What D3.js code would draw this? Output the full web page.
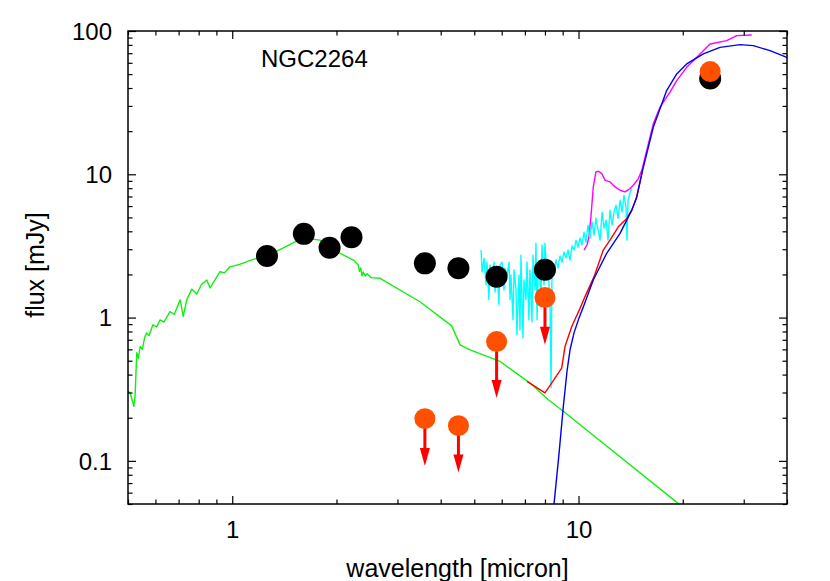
<!DOCTYPE html>
<html><head><meta charset="utf-8">
<script src="https://cdn.jsdelivr.net/npm/d3@7"></script>
<style>
body{margin:0;background:#fff}
text{font-family:"Liberation Sans",Arial,Helvetica,sans-serif;fill:#000}
</style>
</head><body>
<svg id="chart" width="830" height="581"></svg>
<script>
// ---------- data ----------
const title = "NGC2264";
const xLabel = "wavelength [micron]";
const yLabel = "flux [mJy]";
const xTickLabels = [1, 10];
const yTickLabels = [0.1, 1, 10, 100];

// photometry (black filled circles)
const photWave = [1.26, 1.61, 1.91, 2.21, 3.6, 4.5, 5.8, 8.0, 24];
const photFlux = [2.69, 3.84, 3.07, 3.64, 2.39, 2.21, 1.93, 2.16, 46.6];

// second epoch / limits (orange circles), arrows for upper limits
const limWave = [3.6, 4.5, 5.8, 8.0, 24];
const limFlux = [0.197, 0.176, 0.68, 1.38, 52.1];
const limArrowTip = [0.092, 0.083, 0.275, 0.645, null];

// stellar photosphere (green)
const starWave = [0.495,0.507,0.513,0.520,0.524,0.530,0.536,0.542,0.550,0.558,0.566,0.575,0.590,0.605,0.619,0.635,0.661,0.680,0.707,0.722,0.739,0.764,0.790,0.815,0.844,0.863,0.922,0.950,0.985,1.05,1.15,1.258,1.40,1.518,1.604,1.793,2.048,2.237,2.312,2.33,2.35,2.37,2.39,2.42,2.45,2.52,2.672,3.486,4.303,4.549,4.861,5.934,7.244,8.18,9.04,19.42,21.0];
const starFlux = [0.31,0.299,0.27,0.240,0.282,0.568,0.52,0.628,0.60,0.72,0.782,0.75,0.890,0.86,0.964,0.93,1.10,1.05,1.33,1.02,1.33,1.58,1.46,1.70,1.83,1.61,2.09,2.05,2.26,2.35,2.55,2.69,3.05,3.38,3.59,3.47,2.81,2.52,2.33,2.10,2.22,1.96,2.08,1.95,2.02,1.90,1.88,1.29,0.875,0.645,0.596,0.494,0.349,0.267,0.222,0.0503,0.043];

// IRS spectrum (cyan)
const irsWave = [5.23,5.265,5.336,5.407,5.44,5.51,5.553,5.627,5.702,5.74,5.82,5.89,5.934,6.013,6.093,6.13,6.22,6.30,6.341,6.38,6.47,6.511,6.598,6.64,6.73,6.776,6.82,6.91,6.959,7.052,7.10,7.19,7.241,7.338,7.39,7.49,7.535,7.59,7.637,7.69,7.79,7.844,7.949,8.00,8.11,8.162,8.272,8.33,8.383,8.494,8.610,8.725,8.842,8.959,9.080,9.202,9.326,9.452,9.577,9.705,9.835,9.968,10.10,10.23,10.37,10.51,10.65,10.79,10.94,11.09,11.23,11.39,11.54,11.70,11.85,12.01,12.17,12.33,12.50,12.66,12.83,13.01,13.18,13.36,13.53,13.72,13.80,13.90,14.09,14.27];
const irsFlux = [2.96,2.08,2.60,1.69,2.44,1.33,2.33,1.98,2.44,1.51,2.22,1.23,2.33,2.44,1.56,2.22,1.98,2.44,1.33,1.98,0.964,2.15,1.56,0.758,1.98,0.821,2.73,0.723,1.83,1.33,2.44,0.964,2.15,0.933,2.73,1.56,3.31,0.964,1.83,2.44,1.33,3.21,1.69,3.31,1.83,2.44,1.23,0.324,2.15,1.98,2.52,2.22,2.69,2.44,2.87,2.60,2.96,2.52,3.16,2.96,3.47,3.10,3.59,3.21,3.95,3.36,4.42,3.59,4.63,3.76,4.94,4.08,3.47,5.44,4.21,4.79,3.47,5.62,4.42,5.44,6.08,4.94,6.59,5.44,7.14,5.80,3.47,6.59,7.49,7.99];

// second spectrum (magenta)
const spec2Wave = [10.37,10.58,10.72,10.87,11.03,11.23,11.41,11.67,11.93,12.33,12.75,13.18,13.62,14.09,14.39,14.89,15.23,15.74,16.44,17.19,18.37,19.21,20.53,22.44,23.98,26.79,28.63,31.63];
const spec2Flux = [2.96,3.21,3.65,5.19,8.16,10.4,10.5,10.1,9.08,8.84,8.16,7.74,7.53,7.95,8.38,9.33,10.66,14.7,22.5,29.4,37.4,45.1,55.8,69.2,81.2,85.6,92.8,93.8];

// dust model (blue)
const dustWave = [8.38,8.50,8.78,9.04,9.26,9.452,9.705,9.99,10.33,11.03,12.06,13.18,13.78,14.25,14.73,15.26,16.44,17.97,19.21,20.53,22.93,25.62,29.27,31.97,35.73,39.93,40.8];
const dustFlux = [0.0333,0.0505,0.111,0.240,0.419,0.596,0.782,0.964,1.19,1.83,2.81,3.87,4.79,5.62,6.95,10.3,21.3,38.4,50.2,58.9,69.2,76.9,80.3,79.0,72.9,65.5,64.1];

// total model (red)
const totWave = [7.10,8.00,8.37,8.94,9.14,9.56,10.10,10.44,11.09,11.79,12.33,13.03,13.78,14.25,14.73,15.26];
const totFlux = [0.359,0.298,0.350,0.444,0.628,0.866,1.16,1.40,1.93,2.96,3.47,4.30,4.92,5.62,6.95,10.3];

// ---------- chart ----------
const svg = d3.select("#chart");
const L = 128, R = 787, T = 31, B = 504;
const x = d3.scaleLog().domain([0.5, 40]).range([L, R]);
const y = d3.scaleLog().domain([0.05, 100]).range([B, T]);

svg.append("rect").attr("width", 830).attr("height", 581).attr("fill", "#fff");
svg.append("defs").append("clipPath").attr("id", "clip")
  .append("rect").attr("x", L).attr("y", T).attr("width", R - L).attr("height", B - T);

const zip = (a, b) => a.map((v, i) => [v, b[i]]);
const line = d3.line().x(d => x(d[0])).y(d => y(d[1]));
const g = svg.append("g").attr("clip-path", "url(#clip)");

function drawLine(w, f, color, sw) {
  g.append("path").datum(zip(w, f)).attr("d", line)
    .attr("fill", "none").attr("stroke", color).attr("stroke-width", sw)
    .attr("stroke-linejoin", "round");
}
drawLine(starWave, starFlux, "#11ee11", 1.4);
drawLine(spec2Wave, spec2Flux, "#ff00ff", 1.4);
drawLine(irsWave, irsFlux, "#00ffff", 1.4);
drawLine(totWave, totFlux, "#ff0000", 1.4);
drawLine(dustWave, dustFlux, "#0000f0", 1.4);

// black photometry
g.selectAll("circle.phot").data(zip(photWave, photFlux)).join("circle")
  .attr("class", "phot").attr("cx", d => x(d[0])).attr("cy", d => y(d[1]))
  .attr("r", 11).attr("fill", "#000");

// orange limits with arrows
const lim = limWave.map((w, i) => ({w, f: limFlux[i], tip: limArrowTip[i]}));
g.selectAll("circle.lim").data(lim).join("circle")
  .attr("class", "lim").attr("cx", d => x(d.w)).attr("cy", d => y(d.f))
  .attr("r", 10.5).attr("fill", "#ff5000");
const arrows = lim.filter(d => d.tip !== null);
const headLen = 18, headW = 5;
g.selectAll("line.arr").data(arrows).join("line")
  .attr("class", "arr")
  .attr("x1", d => x(d.w)).attr("x2", d => x(d.w))
  .attr("y1", d => y(d.f) + 10).attr("y2", d => y(d.tip) - headLen + 2)
  .attr("stroke", "#ff0000").attr("stroke-width", 3);
g.selectAll("path.head").data(arrows).join("path")
  .attr("class", "head")
  .attr("d", d => {
    const cx = x(d.w), ty = y(d.tip);
    return `M${cx - headW},${ty - headLen}L${cx + headW},${ty - headLen}L${cx},${ty}Z`;
  })
  .attr("fill", "#ff0000");

// axes / ticks
const majorX = xTickLabels, majorY = yTickLabels;
const minorX = x.ticks().filter(v => !majorX.some(m => Math.abs(m - v) < 1e-9));
const minorY = y.ticks().filter(v => !majorY.some(m => Math.abs(m - v) < 1e-9));
const fmt = d => String(d);

function axisPair(gen, pos, majors, minors, labels) {
  const a1 = svg.append("g").attr("transform", pos)
    .call(gen.tickValues(minors).tickSize(-4.5).tickFormat(""));
  const a2 = svg.append("g").attr("transform", pos)
    .call(gen.tickValues(majors).tickSize(-8).tickFormat(labels ? fmt : ""));
  [a1, a2].forEach(a => {
    a.select(".domain").remove();
    a.selectAll(".tick line").attr("stroke", "#000").attr("stroke-width", 1.2);
  });
  return a2;
}
const bx = axisPair(d3.axisBottom(x).tickPadding(17), `translate(0,${B})`, majorX, minorX, true);
axisPair(d3.axisTop(x), `translate(0,${T})`, majorX, minorX, false);
const ly = axisPair(d3.axisLeft(y).tickPadding(16), `translate(${L},0)`, majorY, minorY, true);
axisPair(d3.axisRight(y), `translate(${R},0)`, majorY, minorY, false);
bx.selectAll("text").attr("font-size", 24).attr("fill", "#000");
ly.selectAll("text").attr("font-size", 24).attr("fill", "#000").attr("dy", "0.34em");

svg.append("rect").attr("x", L).attr("y", T).attr("width", R - L).attr("height", B - T)
  .attr("fill", "none").attr("stroke", "#000").attr("stroke-width", 1.5);

// labels
svg.append("text").attr("x", (L + R) / 2).attr("y", 577).attr("text-anchor", "middle")
  .attr("font-size", 25).text(xLabel);
svg.append("text").attr("transform", "translate(44,265) rotate(-90)").attr("text-anchor", "middle")
  .attr("font-size", 25).text(yLabel);
svg.append("text").attr("x", 261).attr("y", 67).attr("font-size", 24).text(title);
</script>
</body></html>
